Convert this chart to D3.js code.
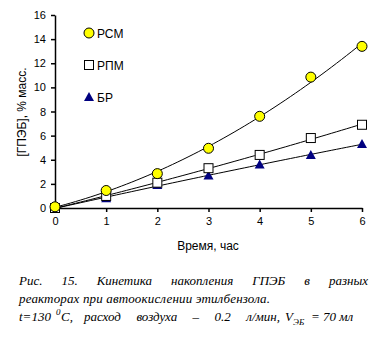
<!DOCTYPE html>
<html>
<head>
<meta charset="utf-8">
<script src="https://cdn.jsdelivr.net/npm/d3@7"></script>
<style>
  body { margin: 0; background: #fff; }
  svg { display: block; }
</style>
</head>
<body>
<div id="chart"></div>
<script>
let hours = [0, 1, 2, 3, 4, 5, 6];
let rsm = [0.1, 1.45, 2.85, 4.95, 7.6, 10.85, 13.4];
let rpm = [0.0, 1.0, 2.1, 3.3, 4.4, 5.8, 6.9];
let br = [0.0, 0.8, 1.9, 2.7, 3.6, 4.4, 5.3];
let yTicks = [0, 2, 4, 6, 8, 10, 12, 14, 16];
let seriesNames = ['РСМ', 'РПМ', 'БР'];

let svgWidth = 381, svgHeight = 343;

const svg = d3.select('#chart')
  .append('svg')
  .attr('width', svgWidth)
  .attr('height', svgHeight);

const x = d3.scaleLinear().domain([0, 6]).range([55, 362]);
const y = d3.scaleLinear().domain([0, 16]).range([208, 15]);

// quadratic least squares fit, used for the trend lines
function fitQuad(xs, ys) {
  let s = [0, 0, 0, 0, 0], t = [0, 0, 0];
  xs.forEach((xv, i) => {
    for (let k = 0; k < 5; k++) s[k] += Math.pow(xv, k);
    for (let k = 0; k < 3; k++) t[k] += Math.pow(xv, k) * ys[i];
  });
  let m = [[s[0], s[1], s[2], t[0]], [s[1], s[2], s[3], t[1]], [s[2], s[3], s[4], t[2]]];
  for (let c = 0; c < 3; c++) {
    for (let r = c + 1; r < 3; r++) {
      let f = m[r][c] / m[c][c];
      for (let k = c; k < 4; k++) m[r][k] -= f * m[c][k];
    }
  }
  let b = [0, 0, 0];
  for (let r = 2; r >= 0; r--) {
    let v = m[r][3];
    for (let k = r + 1; k < 3; k++) v -= m[r][k] * b[k];
    b[r] = v / m[r][r];
  }
  return xv => b[0] + b[1] * xv + b[2] * xv * xv;
}

const line = d3.line().x(d => x(d[0])).y(d => y(d[1]));
[rsm, rpm, br].forEach(vals => {
  const f = fitQuad(hours, vals);
  const pts = d3.range(0, 6.001, 0.1).map(h => [h, f(h)]);
  svg.append('path')
    .attr('d', line(pts))
    .attr('fill', 'none')
    .attr('stroke', '#000')
    .attr('stroke-width', 1);
});

// axes
const yAxis = svg.append('g')
  .attr('transform', 'translate(55,0)')
  .call(d3.axisLeft(y).tickValues(yTicks).tickFormat(d3.format('d'))
    .tickSize(4).tickPadding(5).tickSizeOuter(0));
const xAxis = svg.append('g')
  .attr('transform', 'translate(0,208)')
  .call(d3.axisBottom(x).tickValues(hours).tickFormat(d3.format('d'))
    .tickSize(4).tickPadding(5).tickSizeOuter(0));
[xAxis, yAxis].forEach(g => {
  g.selectAll('path, line').attr('stroke', '#000').attr('stroke-width', 1.5);
  g.selectAll('text').attr('font-family', 'Arial, "Liberation Sans", sans-serif')
    .attr('font-size', 11).attr('fill', '#000');
});

// markers
function drawCircle(g, cx, cy) {
  g.append('circle').attr('cx', cx).attr('cy', cy).attr('r', 5)
    .attr('fill', '#ffff00').attr('stroke', '#000').attr('stroke-width', 1);
}
function drawSquare(g, cx, cy) {
  g.append('rect').attr('x', cx - 4.5).attr('y', cy - 4.5).attr('width', 9).attr('height', 9)
    .attr('fill', '#fff').attr('stroke', '#000').attr('stroke-width', 1);
}
function drawTriangle(g, cx, cy) {
  g.append('path').attr('d', `M${cx},${cy - 5}L${cx + 5},${cy + 4}L${cx - 5},${cy + 4}Z`)
    .attr('fill', '#000080');
}
const drawers = [drawCircle, drawSquare, drawTriangle];

[br, rpm, rsm].forEach((vals, j) => {
  const draw = drawers[2 - j];
  vals.forEach((v, i) => draw(svg, x(hours[i]), y(v)));
});

// legend
seriesNames.forEach((name, i) => {
  const ly = 33 + i * 32;
  drawers[i](svg, 89, ly);
  svg.append('text')
    .attr('x', 97).attr('y', ly + 4.5)
    .attr('font-family', 'Arial, "Liberation Sans", sans-serif')
    .attr('font-size', 12)
    .text(name);
});

// axis titles
svg.append('text')
  .attr('transform', 'translate(26,112) rotate(-90)')
  .attr('text-anchor', 'middle')
  .attr('font-family', 'Arial, "Liberation Sans", sans-serif')
  .attr('font-size', 12)
  .text('[ГПЭБ], % масс.');

svg.append('text')
  .attr('x', 208).attr('y', 250)
  .attr('text-anchor', 'middle')
  .attr('font-family', 'Arial, "Liberation Sans", sans-serif')
  .attr('font-size', 12)
  .text('Время, час');

// caption
const capFont = '"Times New Roman", "Liberation Serif", serif';
function capText(str, x0, yy, len, size) {
  const t = svg.append('text')
    .attr('x', x0).attr('y', yy)
    .attr('font-family', capFont).attr('font-style', 'italic')
    .attr('font-size', size || 13)
    .text(str);
  if (len) t.attr('textLength', len).attr('lengthAdjust', 'spacing');
  return t;
}
function justified(words, x0, x1, yy) {
  const nodes = words.map(w => capText(w, 0, yy));
  const widths = nodes.map(n => n.node().getComputedTextLength());
  const gap = (x1 - x0 - d3.sum(widths)) / (words.length - 1);
  let cx = x0;
  nodes.forEach((n, i) => { n.attr('x', cx); cx += widths[i] + gap; });
}
justified(['Рис.', '15.', 'Кинетика', 'накопления', 'ГПЭБ', 'в', 'разных'], 19, 368, 285);

capText('реакторах при автоокислении этилбензола.', 19, 303, 251);

capText('t=130', 19, 321);
capText('0', 56, 315, 0, 9);
capText('C,', 61, 321);
justified(['расход', 'воздуха', '–', '0.2', 'л/мин,'], 84, 280, 321);
capText('V', 285, 321);
capText('ЭБ', 293, 325, 0, 9);
capText('= 70 мл', 311, 321);
</script>
</body>
</html>
